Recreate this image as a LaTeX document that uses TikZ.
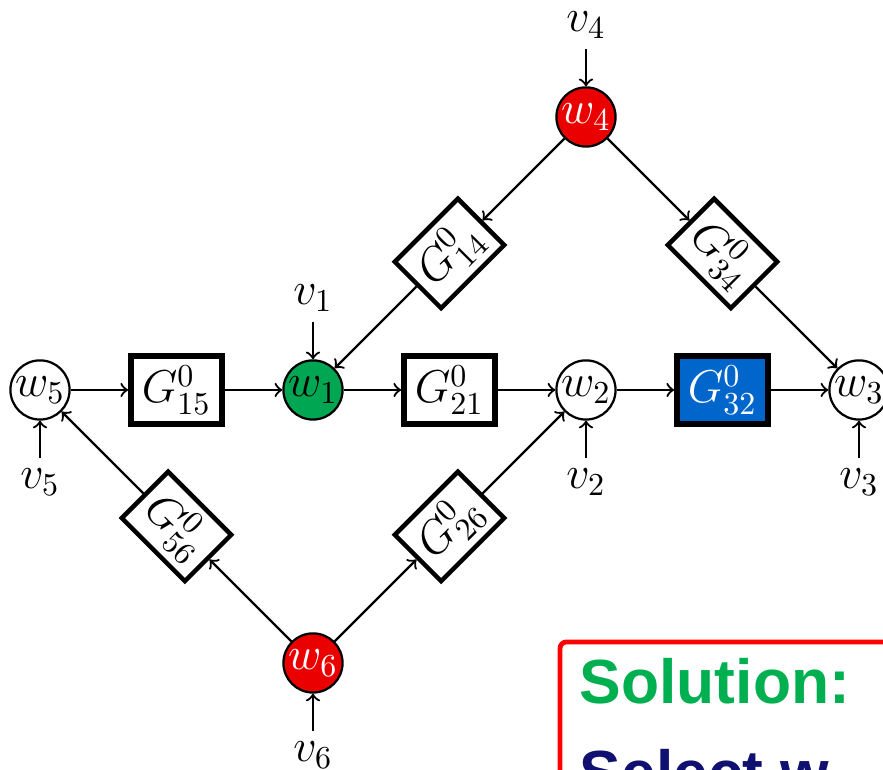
\documentclass[tikz,border=0pt]{standalone}
\usepackage{fontspec}
\newfontfamily\slidefont{Liberation Sans}
\usetikzlibrary{positioning}
\definecolor{nodered}{RGB}{235,0,0}
\definecolor{nodegreen}{RGB}{0,166,81}
\definecolor{blockblue}{RGB}{0,102,204}
\definecolor{solgreen}{RGB}{0,176,80}
\definecolor{solnavy}{RGB}{16,16,112}
\definecolor{boxred}{RGB}{255,0,0}
\begin{document}
\begin{tikzpicture}[x=1.5cm,y=1.5cm,>=to,font=\Large,
    sig/.style={circle,draw,line width=0.7pt,minimum size=0.65cm,inner sep=0pt},
    sysblock/.style={rectangle,draw,line width=1.8pt,minimum width=1.0cm,minimum height=0.75cm,inner sep=1pt},
    tiltblock/.style={rectangle,draw,line width=1.4pt,minimum width=0.98cm,minimum height=0.72cm,inner sep=1pt},
    link/.style={line width=0.7pt,->},
    inlabel/.style={inner sep=0.5pt}]
    \useasboundingbox (-0.293,-2.784) rectangle (6.176,2.857);
    \clip (-0.293,-2.784) rectangle (6.176,2.857);

    % Signal nodes
    \node[sig] (w5) at (0,0) {$w_5$};
    \node[sig,fill=nodegreen] (w1) at (2,0) {$w_1$};
    \node[sig] (w2) at (4,0) {$w_2$};
    \node[sig] (w3) at (6,0) {$w_3$};
    \node[sig,fill=nodered,text=white] (w4) at (4,2) {$w_4$};
    \node[sig,fill=nodered,text=white] (w6) at (2,-2) {$w_6$};

    % Modules
    \node[sysblock] (g15) at (1,0) {$G_{15}^0$};
    \node[sysblock] (g21) at (3,0) {$G_{21}^0$};
    \node[sysblock,fill=blockblue,text=white] (g32) at (5,0) {$G_{32}^0$};
    \node[tiltblock,rotate=45] (g14) at (3,1) {$G_{14}^0$};
    \node[tiltblock,rotate=-45] (g34) at (5,1) {$G_{34}^0$};
    \node[tiltblock,rotate=-45] (g56) at (1,-1) {$G_{56}^0$};
    \node[tiltblock,rotate=45] (g26) at (3,-1) {$G_{26}^0$};

    % External excitations
    \node[inlabel,above=0.5cm of w4] (v4) {$v_4$};
    \node[inlabel,above=0.5cm of w1] (v1) {$v_1$};
    \node[inlabel,below=0.5cm of w5] (v5) {$v_5$};
    \node[inlabel,below=0.5cm of w2] (v2) {$v_2$};
    \node[inlabel,below=0.5cm of w3] (v3) {$v_3$};
    \node[inlabel,below=0.5cm of w6] (v6) {$v_6$};

    % Connections
    \draw[link] (w5) -- (g15);
    \draw[link] (g15) -- (w1);
    \draw[link] (w1) -- (g21);
    \draw[link] (g21) -- (w2);
    \draw[link] (w2) -- (g32);
    \draw[link] (g32) -- (w3);
    \draw[link] (w4) -- (g14);
    \draw[link] (g14) -- (w1);
    \draw[link] (w4) -- (g34);
    \draw[link] (g34) -- (w3);
    \draw[link] (w6) -- (g56);
    \draw[link] (g56) -- (w5);
    \draw[link] (w6) -- (g26);
    \draw[link] (g26) -- (w2);
    \foreach \i in {1,...,6}
        \draw[link,shorten <=2.5pt] (v\i) -- (w\i);

    % Solution box
    \draw[boxred,line width=1.5pt,rounded corners=2pt] (3.81,-3.3) rectangle (6.6,-1.846);
    \node[anchor=base west,inner sep=0pt,text=solgreen] (sol) at (3.95,-2.30)
        {\fontsize{19.5}{23}\slidefont\bfseries Solution:};
    \node[anchor=base west,inner sep=0pt,text=solnavy] (sel) at (3.95,-2.967)
        {\fontsize{19.5}{23}\slidefont\bfseries Select w};

\end{tikzpicture}
\end{document}
